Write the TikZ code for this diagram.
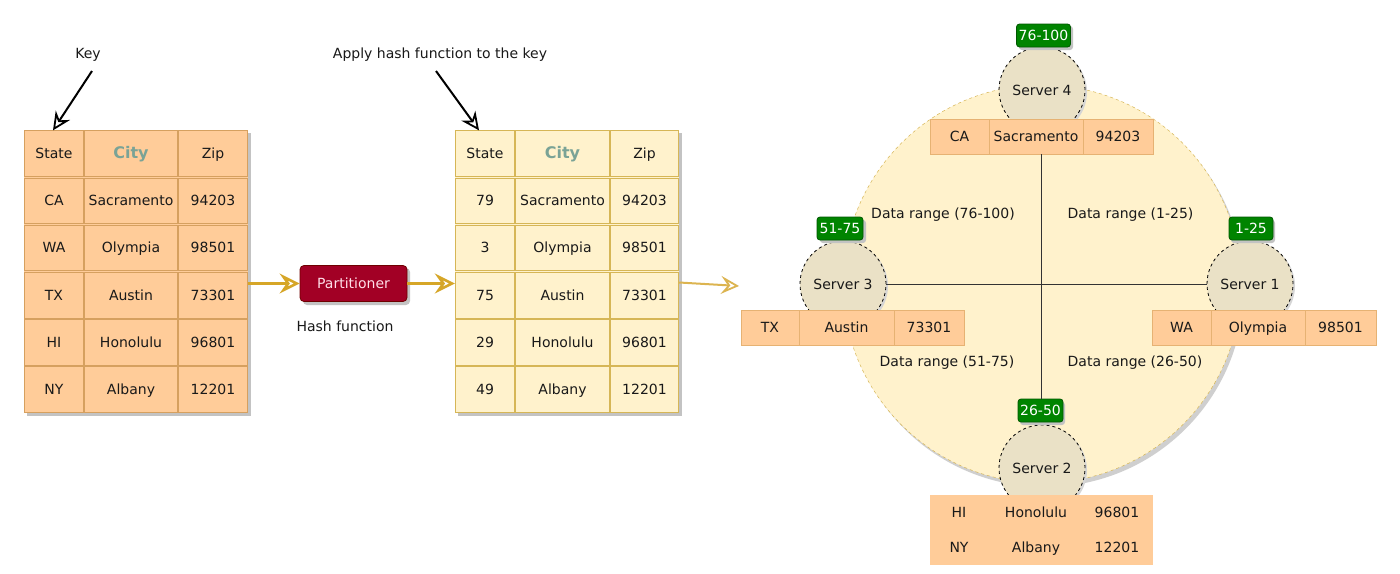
\documentclass[tikz,border=0pt]{standalone}
\usepackage{fontspec}
\setmainfont{DejaVu Sans}
\usetikzlibrary{arrows.meta}
\newcommand\fsz{\fontsize{14}{16}\selectfont}
\newcommand\hdrfont{\fontsize{16}{18}\selectfont\bfseries}
\definecolor{lfill}{RGB}{255,204,153}
\definecolor{lstroke}{RGB}{214,160,95}
\definecolor{rstroke}{RGB}{230,178,115}
\definecolor{mfill}{RGB}{255,242,204}
\definecolor{mstroke}{RGB}{214,182,86}
\definecolor{srvfill}{RGB}{234,225,198}
\definecolor{gold}{RGB}{214,166,40}
\definecolor{goldlight}{RGB}{220,180,80}
\definecolor{partred}{RGB}{162,0,37}
\definecolor{partdark}{RGB}{111,0,0}
\definecolor{parttext}{RGB}{255,222,232}
\definecolor{gfill}{RGB}{0,132,0}
\definecolor{gdark}{RGB}{0,87,0}
\definecolor{citycol}{RGB}{122,163,150}
\definecolor{shadowc}{RGB}{195,195,195}
\tikzset{
  base/.style={font=\fsz, text=black!90, inner sep=0pt, text height=12.6pt, text depth=2.6pt},
  lcell/.style={base, draw=lstroke, fill=lfill, line width=0.8pt, minimum height=45.7pt},
  mcell/.style={base, draw=mstroke, fill=mfill, line width=0.8pt, minimum height=45.7pt},
  rcell/.style={base, draw=rstroke, fill=lfill, line width=0.8pt, minimum height=35pt},
  plain/.style={base},
  server/.style={base, circle, draw=black, dash pattern=on 3pt off 3pt, line width=0.8pt, fill=srvfill, minimum size=86pt},
  glab/.style={base, rounded corners=3pt, fill=gfill, draw=gdark, line width=0.8pt, text=white, minimum height=23pt},
  garrow/.style={draw=gold, line width=3pt, -{Stealth[open, length=20pt, width=20pt, inset=7pt, line width=2.6pt]}},
  sarrow/.style={draw=goldlight, line width=2pt, -{Stealth[open, length=18pt, width=18pt, inset=7pt, line width=1.8pt]}},
  karrow/.style={draw=black, line width=2pt, -{Stealth[open, length=18pt, width=17pt, inset=6pt, line width=1.8pt]}},
}
\begin{document}
\begin{tikzpicture}[x=1pt,y=-1pt]
\useasboundingbox (0,0) rectangle (1400,573);
\fill[white] (0,0) rectangle (1400,573);

% ---------- left table ----------
\fill[shadowc] (27,133) rectangle (251,416);
\fill[lfill] (24,130) rectangle (248,413);
\node[minimum width=224pt, minimum height=283pt, inner sep=0pt] (ltab) at (136,271.5) {};
\node[lcell, minimum width=58.5pt] (lh1) at (54,153.6) {State};
\node[lcell, minimum width=92.5pt, font=\hdrfont, text=citycol] (lh2) at (131,153.6) {City};
\node[lcell, minimum width=68.5pt] (lh3) at (213,153.6) {Zip};
\foreach \a/\b/\c [count=\i] in {CA/Sacramento/94203, WA/Olympia/98501, TX/Austin/73301, HI/Honolulu/96801, NY/Albany/12201} {
  \pgfmathsetmacro\yy{153.6+47.17*\i}
  \node[lcell, minimum width=58.5pt] (l\i a) at (54,\yy) {\a};
  \node[lcell, minimum width=92.5pt] (l\i b) at (131,\yy) {\b};
  \node[lcell, minimum width=68.5pt] (l\i c) at (213,\yy) {\c};
}

% ---------- middle table ----------
\fill[shadowc] (458,133) rectangle (682,416);
\fill[mfill] (455,130) rectangle (679,413);
\node[minimum width=224pt, minimum height=283pt, inner sep=0pt] (mtab) at (567,271.5) {};
\node[mcell, minimum width=58.5pt] (mh1) at (485,153.6) {State};
\node[mcell, minimum width=93.5pt, font=\hdrfont, text=citycol] (mh2) at (562.5,153.6) {City};
\node[mcell, minimum width=67.5pt] (mh3) at (644.5,153.6) {Zip};
\foreach \a/\b/\c [count=\i] in {79/Sacramento/94203, 3/Olympia/98501, 75/Austin/73301, 29/Honolulu/96801, 49/Albany/12201} {
  \pgfmathsetmacro\yy{153.6+47.17*\i}
  \node[mcell, minimum width=58.5pt] (m\i a) at (485,\yy) {\a};
  \node[mcell, minimum width=93.5pt] (m\i b) at (562.5,\yy) {\b};
  \node[mcell, minimum width=67.5pt] (m\i c) at (644.5,\yy) {\c};
}

% ---------- annotations ----------
\node[plain] (key) at (88,53) {Key};
\node[plain] (apply) at (440,53) {Apply hash function to the key};
\coordinate (ka) at (92,71);
\coordinate (aa) at (436,71);
\draw[karrow] (ka) -- ([xshift=-1pt]lh1.north);
\draw[karrow] (aa) -- ([xshift=-6pt]mh1.north);

% ---------- partitioner ----------
\fill[shadowc, rounded corners=4pt] (303,268) rectangle (410,305);
\node[base, rounded corners=4pt, fill=partred, draw=partdark, line width=0.8pt, text=parttext, minimum width=107pt, minimum height=36pt] (P) at (353.5,283.5) {Partitioner};
\node[plain] (hash) at (345,326) {Hash function};
\draw[garrow] (ltab.east |- P.west) -- (P.west);
\draw[garrow] (P.east) -- (mtab.west |- P.east);
\coordinate (mfree) at (739,286);
\draw[sarrow] ([yshift=1pt]mtab.east |- P.east) -- (mfree);

% ---------- ring ----------
\fill[shadowc!80] (1045,288) circle[radius=199pt];
\node[circle, fill=mfill, draw=mstroke, dashed, line width=0.5pt, minimum size=398pt, inner sep=0pt] (ring) at (1042,284) {};

\node[plain] (dr1) at (943,213) {Data range (76-100)};
\node[plain] (dr2) at (1130.5,213) {Data range (1-25)};
\node[plain] (dr3) at (947,361.5) {Data range (51-75)};
\node[plain] (dr4) at (1135,361.5) {Data range (26-50)};

% servers
\fill[shadowc!70] (1044,92) circle[radius=43pt];
\fill[shadowc!70] (845,286) circle[radius=43pt];
\fill[shadowc!70] (1252,286) circle[radius=43pt];
\fill[shadowc!70] (1044,470) circle[radius=43pt];
\node[server] (s4) at (1042,90) {Server 4};
\node[server] (s3) at (843,284) {Server 3};
\node[server] (s1) at (1250,284) {Server 1};
\node[server] (s2) at (1042,468) {Server 2};

% ring tables
\node[minimum width=223pt, minimum height=35pt, inner sep=0pt] (catab) at (1041.5,136.5) {};
\node[rcell, minimum width=59pt] (ca1) at (959.5,136.5) {CA};
\node[rcell, minimum width=94pt] (ca2) at (1036,136.5) {Sacramento};
\node[rcell, minimum width=70pt] (ca3) at (1118,136.5) {94203};

\node[rcell, minimum width=58pt] (tx1) at (770,327.5) {TX};
\node[rcell, minimum width=95pt] (tx2) at (846.5,327.5) {Austin};
\node[rcell, minimum width=70pt] (tx3) at (929,327.5) {73301};

\node[rcell, minimum width=59pt] (wa1) at (1181.5,327.5) {WA};
\node[rcell, minimum width=94pt] (wa2) at (1258,327.5) {Olympia};
\node[rcell, minimum width=71pt] (wa3) at (1340.5,327.5) {98501};

\node[base, fill=lfill, minimum width=223pt, minimum height=70pt] (btab) at (1041.5,530) {};
\node[plain] (b1a) at (959,512) {HI};
\node[plain] (b1b) at (1036,512) {Honolulu};
\node[plain] (b1c) at (1117,512) {96801};
\node[plain] (b2a) at (959,547) {NY};
\node[plain] (b2b) at (1036,547) {Albany};
\node[plain] (b2c) at (1117,547) {12201};

% green labels
\fill[shadowc, rounded corners=3pt] (1019,26) rectangle (1073,50);
\fill[shadowc, rounded corners=3pt] (820,220) rectangle (866,243);
\fill[shadowc, rounded corners=3pt] (1231,220) rectangle (1275,243);
\fill[shadowc, rounded corners=3pt] (1020,402) rectangle (1065,425);
\node[glab, minimum width=54pt] (g4) at (1043.5,35.5) {76-100};
\node[glab, minimum width=46pt] (g3) at (840,228.5) {51-75};
\node[glab, minimum width=44pt] (g1) at (1251,228.5) {1-25};
\node[glab, minimum width=45pt] (g2) at (1040.5,410.5) {26-50};

% cross lines
\draw[black!80, line width=1pt] (catab.south) -- (catab.south |- g2.north);
\draw[black!80, line width=1pt] (s3.east) -- (s1.west);
\end{tikzpicture}
\end{document}
